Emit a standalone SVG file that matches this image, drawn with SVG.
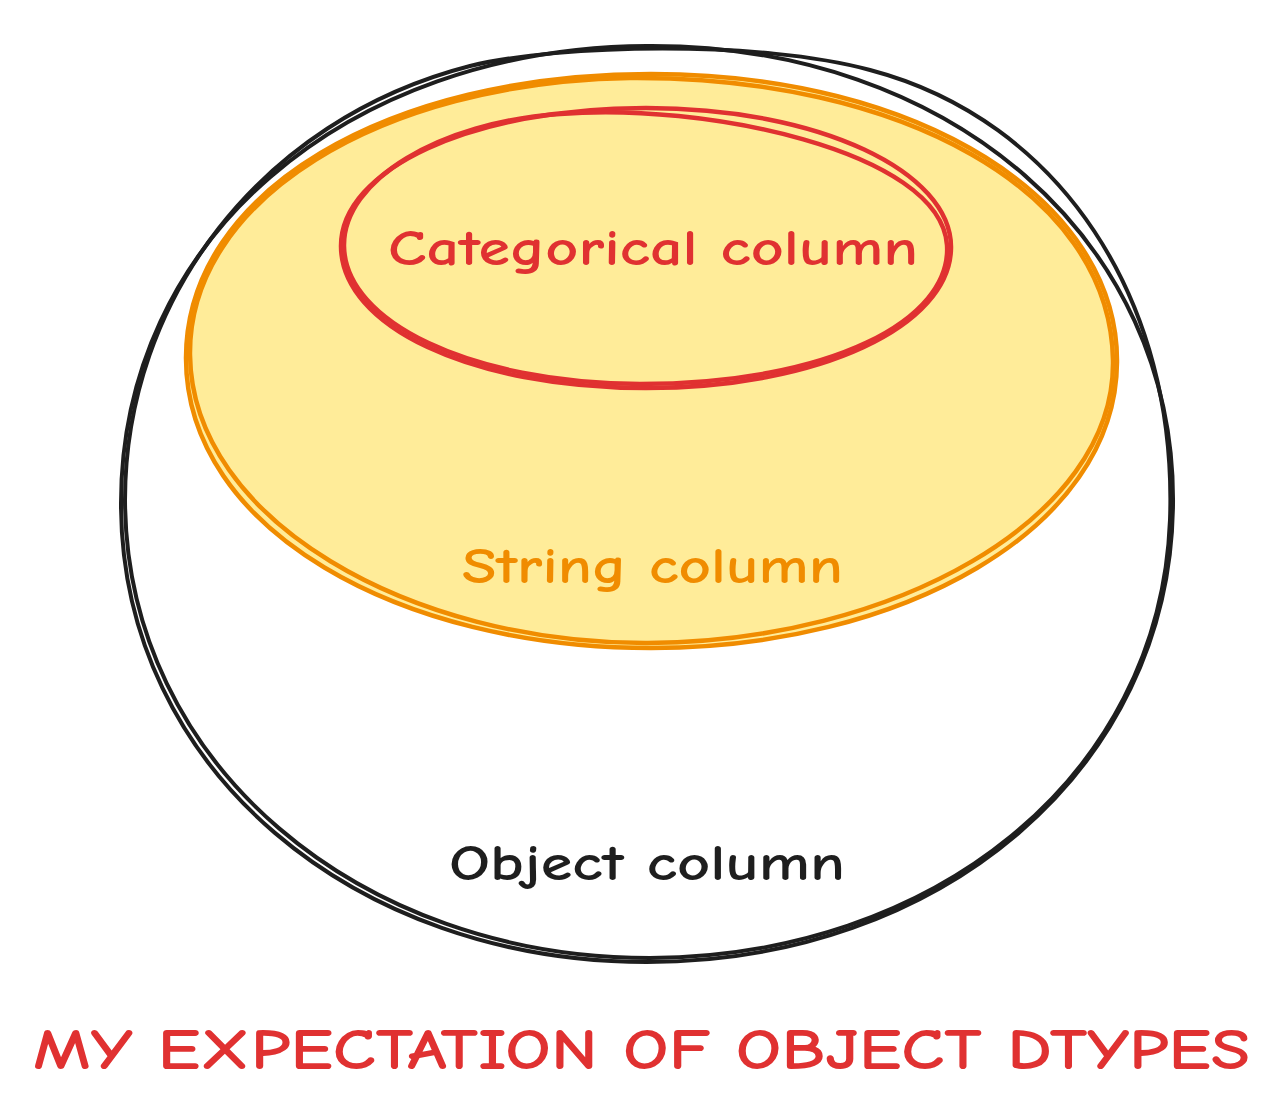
<svg xmlns="http://www.w3.org/2000/svg" width="1281" height="1120" viewBox="0 0 1281 1120">
<style>
.s{fill:none;stroke-linecap:round;stroke-linejoin:round}
.blk{stroke:#1e1e1e;stroke-width:4}
.org{stroke:#f08c00;stroke-width:4.5}
.red{stroke:#e03131;stroke-width:4.5}
.t{font-family:"Comic Neue","Lato","Noto Sans",sans-serif;font-weight:bold;text-anchor:start}
</style>
<rect width="1281" height="1120" fill="#ffffff"/>
<g id="object">
<path class="s blk" d="M647 46 C950 44 1176 240 1173 505 C1170 770 940 962 647 962 C355 962 122 770 121 505 C120 240 345 48 647 46 Z"/>
<path class="s blk" d="M470 66 C560 44 760 40 870 70 C1060 120 1178 300 1170 520 C1160 780 930 957 650 958 C360 958 126 765 125 500 C125 300 260 120 470 66" stroke-width="2.5"/>
<text class="t" x="449" y="880" font-size="50" fill="#1e1e1e" textLength="396" lengthAdjust="spacingAndGlyphs">Object column</text>
</g>
<g id="string">
<path class="s org" fill="#ffec99" d="M651 74 C920 74 1118 200 1117 362 C1116 530 900 648 651 648 C400 648 186 530 186 358 C186 190 390 74 651 74 Z" style="fill:#ffec99"/>
<path class="s org" d="M630 78 C900 76 1110 190 1113 360 C1116 520 890 642 648 643 C410 644 192 520 190 355 C188 200 380 82 630 78" stroke-width="2.5"/>
<text class="t" x="462" y="583" font-size="50" fill="#f08c00" textLength="381" lengthAdjust="spacingAndGlyphs">String column</text>
</g>
<g id="categorical">
<path class="s red" d="M646 108 C820 108 952 172 951 248 C950 326 820 388 646 388 C470 388 341 326 341 246 C341 170 470 108 646 108 Z"/>
<path class="s red" d="M560 114 C700 102 940 150 947 245 C952 320 830 384 640 384 C470 383 345 322 344 246 C343 180 440 122 560 114" stroke-width="2.5"/>
<text class="t" x="388" y="265" font-size="50" fill="#e03131" textLength="530" lengthAdjust="spacingAndGlyphs">Categorical column</text>
</g>
<g id="connectors"></g>
<g id="title">
<text class="t" x="33" y="1069" font-size="58" fill="#e03131" textLength="1217" lengthAdjust="spacingAndGlyphs">MY EXPECTATION OF OBJECT DTYPES</text>
</g>
</svg>
